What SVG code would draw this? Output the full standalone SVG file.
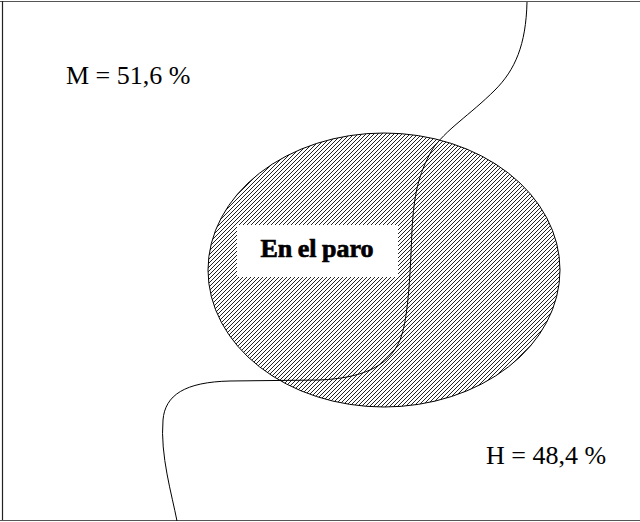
<svg xmlns="http://www.w3.org/2000/svg" width="640" height="522" viewBox="0 0 640 522">
<style>
.frame{stroke:#555;stroke-width:1.2;fill:none}
.lbl{font-family:"Liberation Serif","Times New Roman",serif;font-size:26px;fill:#000}
.bold{font-family:"Liberation Serif","Times New Roman",serif;font-size:26px;font-weight:bold;fill:#000;stroke:#000;stroke-width:0.7;word-spacing:-1px}
</style>
<defs>
<pattern id="hatch" patternUnits="userSpaceOnUse" width="4" height="4">
<rect width="4" height="4" fill="#fff"/>
<path d="M-1,1 L1,-1 M0,4 L4,0 M3,5 L5,3" stroke="#222" stroke-width="1"/>
</pattern>
</defs>
<rect width="640" height="522" fill="#fff"/>
<g id="frame">
<line class="frame" x1="0" y1="1.5" x2="640" y2="1.5" stroke="#888"/>
<line class="frame" x1="2.5" y1="1" x2="2.5" y2="521" style="stroke:#222"/>
<line class="frame" x1="0" y1="520.5" x2="640" y2="520.5"/>
</g>
<g id="paro">
<ellipse cx="384" cy="270" rx="176" ry="137" fill="url(#hatch)" stroke="#000" stroke-width="1"/>
<rect x="237" y="225" width="161" height="52" fill="#fff"/>
<text class="bold" x="317" y="257" text-anchor="middle">En el paro</text>
</g>
<g id="connectors">
<path d="M527,2 C526,45 515,70 495,90 C470,115 445,130 432,150 C418,175 414,195 412,230 C410,280 408,320 400,340 C388,368 360,378 320,380 L230,381 C185,382 165,395 163,420 C160,455 172,495 177,521" fill="none" stroke="#000" stroke-width="1"/>
</g>
<g id="M">
<text class="lbl" x="66" y="84">M = 51,6 %</text>
</g>
<g id="H">
<text class="lbl" x="486" y="464">H = 48,4 %</text>
</g>
</svg>
